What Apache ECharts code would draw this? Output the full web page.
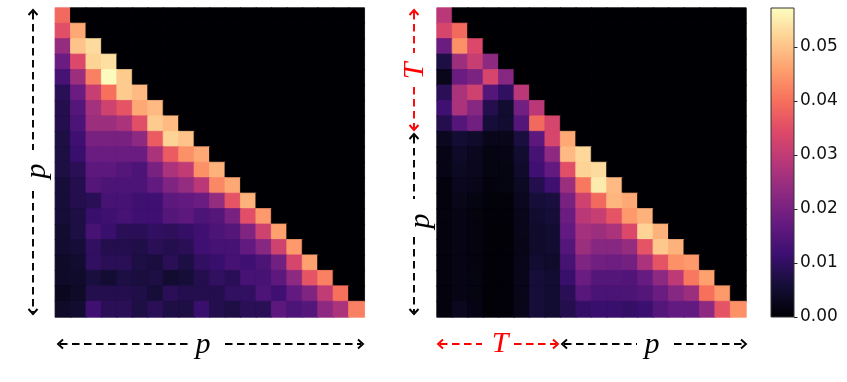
<!DOCTYPE html>
<html>
<head>
<meta charset="utf-8">
<style>html,body{margin:0;padding:0;background:#fff}#c{width:847px;height:382px}</style>
<script src="https://cdn.jsdelivr.net/npm/echarts@6/dist/echarts.min.js"></script>
</head>
<body>
<div id="c"></div>
<script>
// cell values in thousandths, lower-triangular rows (cells above the diagonal are 0)
var leftRows = [
[39],
[35,47],
[24,50,53],
[18,34,52,53.5],
[13,25,42,57,51],
[9,18,31,40,51,49],
[8,15,26,32,36,47,49],
[8,14,25,25,27,35,51,49],
[7,12,20,20,20,23,37,52,50],
[7,11,18,18,18,18,27,37,44,47],
[7,9,16,16,15,14,20,27,30,44,48],
[6,8,15,14,14,14,17,21,24,29,43,47],
[6,8,9,13,13,12,12,16,17,18,24,36,48],
[6,7,11,12,13,12,12,15,16,14,15,20,35,45],
[5,7,13,11,9,9,10,9.5,10.5,12,14,15,21,32,46],
[5,6,10,8,8,7.5,9,8,9,12,13,13,17,22,32,45],
[4,5,10,9,9,7,6.5,9,7,10,11,13,12,14,19,33,46],
[4,4.5,6.5,5.5,7,6.5,7,5,6,8,10,9,13,13,16,23,36,42],
[3,4,8,8,8,7.5,6,9,8,8,8,10,10,14,12,17,21,30,40],
[4,5,12,9,9,7,9,7,7,11,8,7,9,9,16,14,15,23,27,42]
];
var rightRows = [
[29],
[33,39],
[18,44,34],
[7,25,31,23],
[2.5,18,20.5,33,22],
[9,27,32,15,10,29],
[12,27,22,8,5,19,29],
[8,15,19,6,5,15,39,33],
[3,5.5,4.5,2.5,2.5,6.5,16,33,47],
[2,4,3,1.5,2,5,13,23,49,52.5],
[2,3.5,3,1.5,1.5,4.5,12,17,35,52,53],
[1,3,2.5,1,1.5,3.5,8,12,25,41,55,49],
[1,2.5,1.5,0.7,0.8,3,6,6.5,20,32,39,48.5,47],
[1,2,1.2,0.6,0.6,2.5,5,6,18,29,31,36,45,48],
[1,2,1.2,0.5,0.5,2.3,4.5,5,17,26,25,27,34,52,48],
[1,2,1.3,0.5,0.5,2.2,4.5,5,15,25,22,22,24,36,50.5,48],
[1,2,1.4,0.5,0.6,2.3,5,4.5,13,21,19,18.5,19.5,27,36,44,45],
[1,2,1.5,0.5,0.6,2.3,6,5,11,18,15,15,14.5,17.5,23,29.5,41,46],
[1,2,1.5,0.5,0.6,2.3,6,5,9,15.5,13.5,13.5,14,15,18,22,25,40,45],
[1,3,1.8,0.5,0.6,2.3,6,5,8,10.5,11,11,10.5,11.5,15,17,17,23,36,44]
];
var cells = ['0','1','2','3','4','5','6','7','8','9','10','11','12','13','14','15','16','17','18','19'];
var colorMax = 0.0572;
var magma = ['#000004','#140e36','#3b0f70','#641a80','#8c2981','#b73779','#de4968','#f7705c','#fe9f6d','#fecf92','#fcfdbf'];

function toCells(rows){
  var out = [];
  cells.forEach(function(_, r){
    cells.forEach(function(_, c){
      var v = c < rows[r].length ? rows[r][c] / 1000 : 0;
      // a hairline border in the cell's own colour closes the seams between fractional-width cells
      out.push({value:[c, r, v], itemStyle:{borderColor:echarts.color.lerp(Math.min(v / colorMax, 1), magma), borderWidth:0.8}});
    });
  });
  return out;
}

var grad = new echarts.graphic.LinearGradient(0, 1, 0, 0,
  magma.map(function(col, i){ return {offset: i / (magma.length - 1), color: col}; }));

function hAxis(i){ return {type:'category', gridIndex:i, data:cells, show:false}; }
function vAxis(i){ return {type:'category', gridIndex:i, data:cells, show:false, inverse:true}; }
function heat(i, rows){
  return {type:'heatmap', xAxisIndex:i, yAxisIndex:i, data:toCells(rows), progressive:0, animation:false,
          silent:true, emphasis:{disabled:true}};
}

var BLACK = '#000', RED = '#f00';
function dash(x1,y1,x2,y2,color){
  return {type:'line', shape:{x1:x1,y1:y1,x2:x2,y2:y2}, silent:true,
    style:{stroke:color, lineWidth:1.9, lineDash:[7.5,4.5], fill:null}};
}
function head(x,y,dx,dy,color){
  var l = 5, w = 4.5, px = -dy, py = dx;
  return {type:'polyline', silent:true,
    shape:{points:[[x - dx*l + px*w, y - dy*l + py*w],[x,y],[x - dx*l - px*w, y - dy*l - py*w]]},
    style:{stroke:color, lineWidth:1.9, fill:null}};
}
function label(t,x,y,color,rot){
  return {type:'text', x:x, y:y, rotation:rot||0, silent:true,
    style:{text:t, fill:color, font:'italic 30px "Liberation Serif"', align:'center', verticalAlign:'middle'}};
}
var R = Math.PI/2;
var marks = [
  // left panel, bottom
  dash(60,344,188,344,BLACK), head(58,344,-1,0,BLACK),
  dash(225,344,361,344,BLACK), head(363,344,1,0,BLACK),
  label('p',203,345,BLACK),
  // left panel, side
  dash(33,12,33,150,BLACK), head(33,10,0,-1,BLACK),
  dash(33,191,33,312,BLACK), head(33,314,0,1,BLACK),
  label('p',37,171,BLACK,R),
  // right panel, bottom
  dash(440,344,482,344,RED), head(438,344,-1,0,RED),
  dash(514,344,556,344,RED), head(558,344,1,0,RED),
  label('T',500,344,RED),
  dash(564,344,637,344,BLACK), head(562,344,-1,0,BLACK),
  dash(674,344,744,344,BLACK), head(746,344,1,0,BLACK),
  label('p',652,345,BLACK),
  // right panel, side
  dash(414,12,414,53,RED), head(414,10,0,-1,RED),
  dash(414,87,414,128,RED), head(414,130,0,1,RED),
  label('T',415,71,RED,R),
  dash(414,136,414,199,BLACK), head(414,134,0,-1,BLACK),
  dash(414,237,414,312,BLACK), head(414,314,0,1,BLACK),
  label('p',421,221,BLACK,R)
];

var chart = echarts.init(document.getElementById('c'), null, {renderer:'canvas'});
chart.setOption({
  animation:false,
  backgroundColor:'#fff',
  grid:[
    {left:55.3, top:8, width:309, height:309},
    {left:437, top:8, width:309, height:309},
    {left:771, top:8, width:23, height:309, show:true, borderColor:'#333', borderWidth:1, backgroundColor:'transparent', z:5}
  ],
  xAxis:[hAxis(0), hAxis(1), {type:'category', gridIndex:2, data:['scale'], show:false}],
  yAxis:[vAxis(0), vAxis(1), {
    type:'value', gridIndex:2, min:0, max:colorMax, interval:0.01, position:'right',
    axisLine:{show:false}, splitLine:{show:false},
    axisTick:{show:true, length:3.5, lineStyle:{color:'#222', width:1}},
    axisLabel:{margin:6, color:'#111', fontFamily:'DejaVu Sans', fontSize:17, showMaxLabel:false,
      formatter:function(v){ return v.toFixed(2); }}
  }],
  visualMap:{show:false, type:'continuous', min:0, max:colorMax, seriesIndex:[0,1], inRange:{color:magma}},
  series:[
    heat(0,leftRows),
    heat(1,rightRows),
    {type:'bar', xAxisIndex:2, yAxisIndex:2, data:[colorMax], barWidth:'100%', silent:true, itemStyle:{color:grad}}
  ],
  graphic:{elements:marks}
});
</script>
</body>
</html>
